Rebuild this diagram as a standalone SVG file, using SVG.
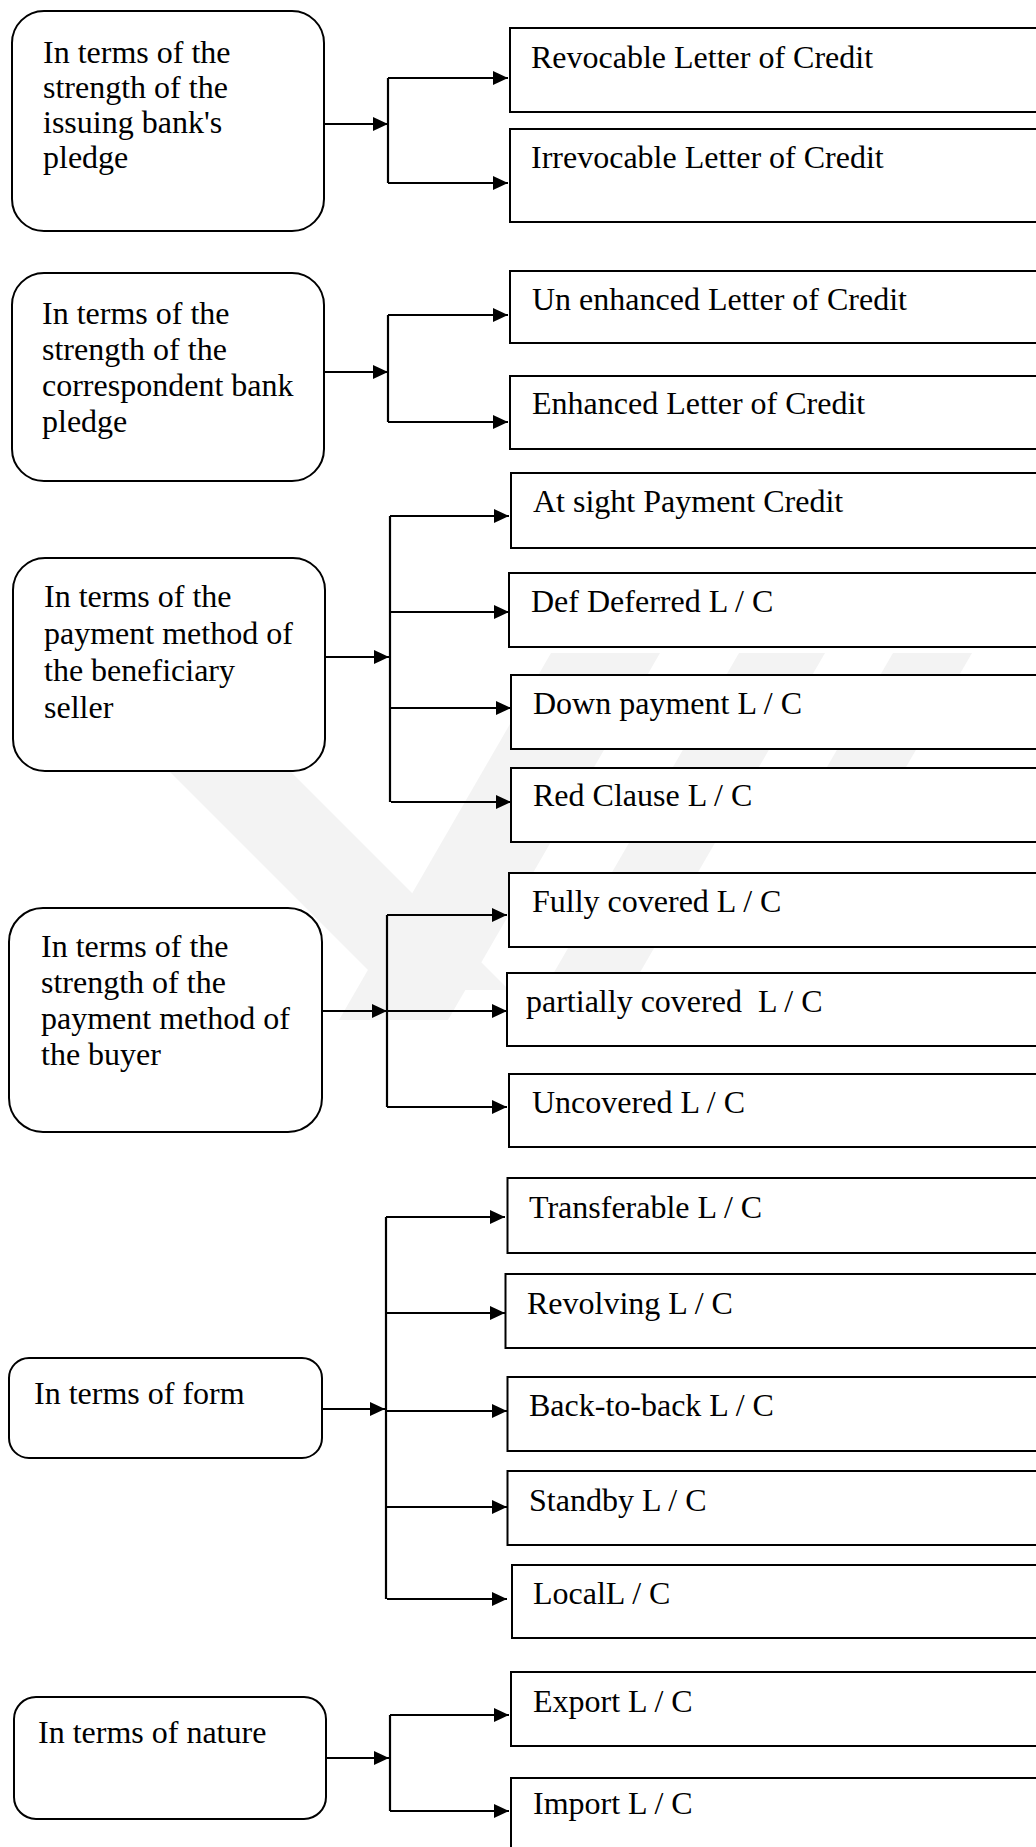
<svg xmlns="http://www.w3.org/2000/svg" width="1036" height="1847" viewBox="0 0 1036 1847">
<style>
.bg{fill:#fff}
.wm{fill:#f3f3f3;stroke:none}
.node{fill:#fff;stroke:#000;stroke-width:2}
.box{fill:#fff;stroke:#000;stroke-width:2}
.t{font-family:"Liberation Serif","Times New Roman",serif;font-size:32px;fill:#000}
.c{fill:none;stroke:#000;stroke-width:2.2}
</style>
<defs>
<marker id="ah" markerUnits="userSpaceOnUse" markerWidth="16" markerHeight="14" refX="15" refY="7" orient="auto">
<path d="M0,0 L15,7 L0,14 z" fill="#000"/>
</marker>
</defs>
<rect class="bg" x="0" y="0" width="1036" height="1847"/>
<g id="watermark">
<polygon class="wm" points="551,653 660,653 448,1020 339,1020"/>
<polygon class="wm" points="739,653 825,653 624,1000 538,1000"/>
<polygon class="wm" points="893,653 972,653 880,812 801,812"/>
<polygon class="wm" points="168,770 289,770 509,990 388,990"/>
</g>
<g id="connectors">
<line class="c" x1="324" y1="124" x2="388" y2="124" marker-end="url(#ah)"/>
<line class="c" x1="388" y1="78" x2="388" y2="183"/>
<line class="c" x1="388" y1="78" x2="508" y2="78" marker-end="url(#ah)"/>
<line class="c" x1="388" y1="183" x2="508" y2="183" marker-end="url(#ah)"/>

<line class="c" x1="324" y1="372" x2="388" y2="372" marker-end="url(#ah)"/>
<line class="c" x1="388" y1="315" x2="388" y2="422"/>
<line class="c" x1="388" y1="315" x2="508" y2="315" marker-end="url(#ah)"/>
<line class="c" x1="388" y1="422" x2="508" y2="422" marker-end="url(#ah)"/>

<line class="c" x1="325" y1="657" x2="389" y2="657" marker-end="url(#ah)"/>
<line class="c" x1="390" y1="516" x2="390" y2="802"/>
<line class="c" x1="390" y1="516" x2="509" y2="516" marker-end="url(#ah)"/>
<line class="c" x1="390" y1="612" x2="509" y2="612" marker-end="url(#ah)"/>
<line class="c" x1="391" y1="708" x2="511" y2="708" marker-end="url(#ah)"/>
<line class="c" x1="391" y1="802" x2="511" y2="802" marker-end="url(#ah)"/>

<line class="c" x1="322" y1="1011" x2="387" y2="1011" marker-end="url(#ah)"/>
<line class="c" x1="387" y1="915" x2="387" y2="1107"/>
<line class="c" x1="387" y1="915" x2="507" y2="915" marker-end="url(#ah)"/>
<line class="c" x1="387" y1="1011" x2="507" y2="1011" marker-end="url(#ah)"/>
<line class="c" x1="387" y1="1107" x2="507" y2="1107" marker-end="url(#ah)"/>

<line class="c" x1="322" y1="1409" x2="385" y2="1409" marker-end="url(#ah)"/>
<line class="c" x1="386" y1="1217" x2="386" y2="1599"/>
<line class="c" x1="386" y1="1217" x2="505" y2="1217" marker-end="url(#ah)"/>
<line class="c" x1="386" y1="1313" x2="505" y2="1313" marker-end="url(#ah)"/>
<line class="c" x1="387" y1="1411" x2="507" y2="1411" marker-end="url(#ah)"/>
<line class="c" x1="387" y1="1507" x2="507" y2="1507" marker-end="url(#ah)"/>
<line class="c" x1="387" y1="1599" x2="507" y2="1599" marker-end="url(#ah)"/>

<line class="c" x1="326" y1="1758" x2="389" y2="1758" marker-end="url(#ah)"/>
<line class="c" x1="390" y1="1715" x2="390" y2="1811"/>
<line class="c" x1="390" y1="1715" x2="509" y2="1715" marker-end="url(#ah)"/>
<line class="c" x1="390" y1="1811" x2="509" y2="1811" marker-end="url(#ah)"/>
</g>

<g id="n1"><rect class="node" x="12" y="11" width="312" height="220" rx="32"/>
<text class="t" x="43" y="63">In terms of the</text><text class="t" x="43" y="98">strength of the</text><text class="t" x="43" y="133">issuing bank's</text><text class="t" x="43" y="168">pledge</text></g>
<g id="n2"><rect class="node" x="12" y="273" width="312" height="208" rx="32"/>
<text class="t" x="42" y="324">In terms of the</text><text class="t" x="42" y="360">strength of the</text><text class="t" x="42" y="396">correspondent bank</text><text class="t" x="42" y="432">pledge</text></g>
<g id="n3"><rect class="node" x="13" y="558" width="312" height="213" rx="32"/>
<text class="t" x="44" y="607">In terms of the</text><text class="t" x="44" y="644">payment method of</text><text class="t" x="44" y="681">the beneficiary</text><text class="t" x="44" y="718">seller</text></g>
<g id="n4"><rect class="node" x="9" y="908" width="313" height="224" rx="34"/>
<text class="t" x="41" y="957">In terms of the</text><text class="t" x="41" y="993">strength of the</text><text class="t" x="41" y="1029">payment method of</text><text class="t" x="41" y="1065">the buyer</text></g>
<g id="n5"><rect class="node" x="9" y="1358" width="313" height="100" rx="20"/>
<text class="t" x="34" y="1404">In terms of form</text></g>
<g id="n6"><rect class="node" x="14" y="1697" width="312" height="122" rx="22"/>
<text class="t" x="38" y="1743">In terms of nature</text></g>

<g id="r1"><rect class="box" x="510" y="28" width="540" height="84"/><text class="t" x="531" y="68">Revocable Letter of Credit</text></g>
<g id="r2"><rect class="box" x="510" y="129" width="540" height="93"/><text class="t" x="531" y="168">Irrevocable Letter of Credit</text></g>
<g id="r3"><rect class="box" x="510" y="271" width="540" height="72"/><text class="t" x="532" y="310">Un enhanced Letter of Credit</text></g>
<g id="r4"><rect class="box" x="510" y="376" width="540" height="73"/><text class="t" x="532" y="414">Enhanced Letter of Credit</text></g>
<g id="r5"><rect class="box" x="511" y="473" width="540" height="75"/><text class="t" x="533" y="512">At sight Payment Credit</text></g>
<g id="r6"><rect class="box" x="509" y="573" width="540" height="74"/><text class="t" x="531" y="612">Def Deferred L / C</text></g>
<g id="r7"><rect class="box" x="511" y="675" width="540" height="74"/><text class="t" x="533" y="714">Down payment L / C</text></g>
<g id="r8"><rect class="box" x="511" y="768" width="540" height="74"/><text class="t" x="533" y="806">Red Clause L / C</text></g>
<g id="r9"><rect class="box" x="509" y="873" width="540" height="74"/><text class="t" x="532" y="912">Fully covered L / C</text></g>
<g id="r10"><rect class="box" x="507" y="973" width="540" height="73"/><text class="t" x="526" y="1012" xml:space="preserve">partially covered  L / C</text></g>
<g id="r11"><rect class="box" x="509" y="1074" width="540" height="73"/><text class="t" x="532" y="1113">Uncovered L / C</text></g>
<g id="r12"><rect class="box" x="507.5" y="1178" width="540" height="75"/><text class="t" x="529" y="1218">Transferable L / C</text></g>
<g id="r13"><rect class="box" x="505.5" y="1274" width="540" height="74"/><text class="t" x="527" y="1314">Revolving L / C</text></g>
<g id="r14"><rect class="box" x="507.5" y="1377" width="540" height="74"/><text class="t" x="529" y="1416">Back-to-back L / C</text></g>
<g id="r15"><rect class="box" x="507.5" y="1471" width="540" height="74"/><text class="t" x="529" y="1511">Standby L / C</text></g>
<g id="r16"><rect class="box" x="512" y="1565" width="540" height="73"/><text class="t" x="533" y="1604">LocalL / C</text></g>
<g id="r17"><rect class="box" x="511" y="1672" width="540" height="74"/><text class="t" x="533" y="1712">Export L / C</text></g>
<g id="r18"><rect class="box" x="511" y="1778" width="540" height="90"/><text class="t" x="533" y="1814">Import L / C</text></g>
</svg>
